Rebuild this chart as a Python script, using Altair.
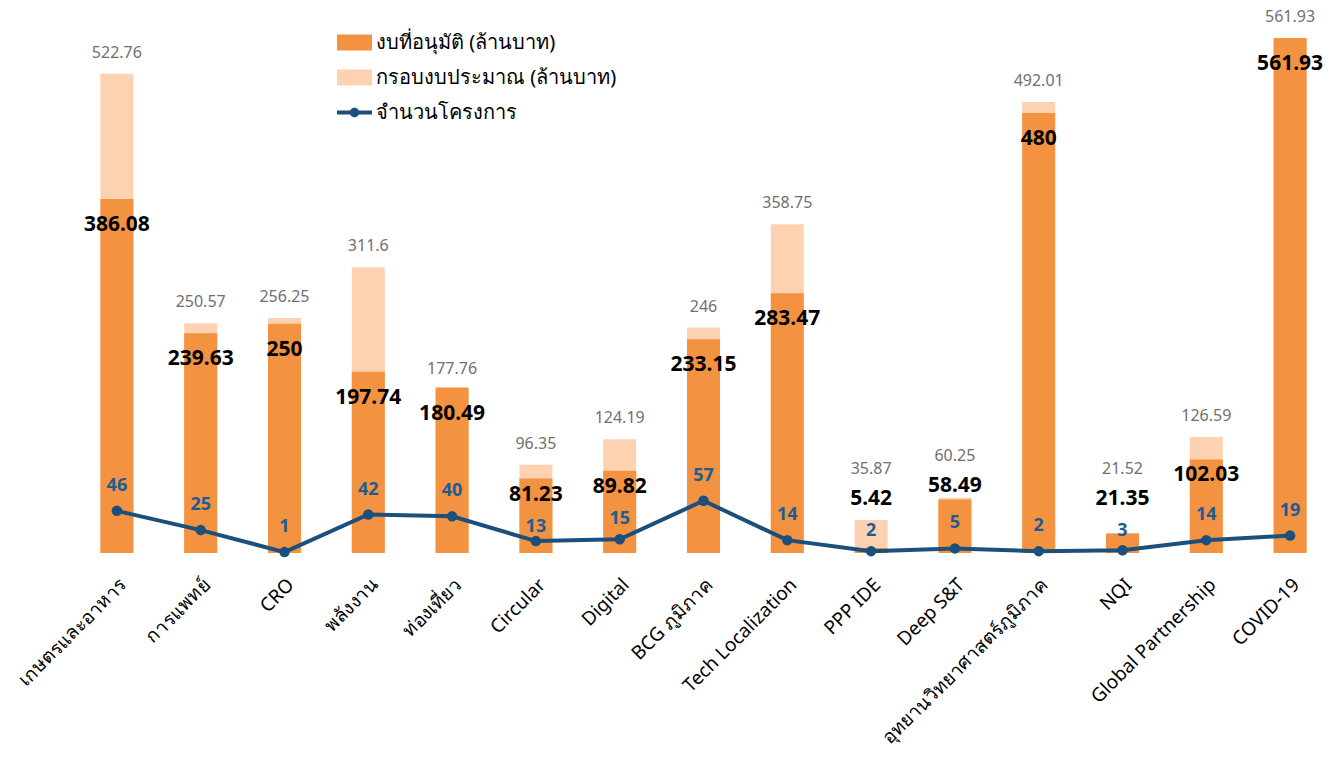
import altair as alt
import pandas as pd

categories = ["เกษตรและอาหาร", "การแพทย์", "CRO", "พลังงาน", "ท่องเที่ยว", "Circular",
              "Digital", "BCG ภูมิภาค", "Tech Localization", "PPP IDE", "Deep S&T",
              "อุทยานวิทยาศาสตร์ภูมิภาค", "NQI", "Global Partnership", "COVID-19"]
budget = [522.76, 250.57, 256.25, 311.6, 177.76, 96.35, 124.19, 246, 358.75, 35.87,
          60.25, 492.01, 21.52, 126.59, 561.93]
approved = [386.08, 239.63, 250, 197.74, 180.49, 81.23, 89.82, 233.15, 283.47, 5.42,
            58.49, 480, 21.35, 102.03, 561.93]
projects = [46, 25, 1, 42, 40, 13, 15, 57, 14, 2, 5, 2, 3, 14, 19]

S_APP = "งบที่อนุมัติ (ล้านบาท)"
S_BUD = "กรอบงบประมาณ (ล้านบาท)"
S_CNT = "จำนวนโครงการ"

ORANGE = "#F39240"
PEACH = "#FDD2B2"
NAVY = "#1B4F7C"
BLUE_TXT = "#1E5C93"
FONT = "Noto Sans"

H = 550
YMAX = 600
k = H / YMAX  # px per unit

df = pd.DataFrame({"cat": categories, "budget": budget, "approved": approved,
                   "projects": projects})
df["budget_lbl"] = [f"{v:g}" for v in budget]
df["approved_lbl"] = [f"{v:g}" for v in approved]
df["projects_lbl"] = [str(v) for v in projects]


def bold_pos(a):
    if a >= 110:
        return a - 26 / k
    if a >= 70:
        return a - 16 / k
    return max(a + 13 / k, 59)


df["bold_y"] = [bold_pos(a) for a in approved]
df["gray_y"] = [max(b + 21 / k, by + 30 / k) for b, by in zip(budget, df["bold_y"])]
df["cnt_y"] = [min(p + 25 / k, by - 32 / k) for p, by in zip(projects, df["bold_y"])]

xenc = alt.X("cat:N", sort=categories, title=None,
             axis=alt.Axis(labelAngle=-45, labelFontSize=19, labelColor="#000000",
                           labelFont=FONT, ticks=False, domain=False, labelPadding=22,
                           labelLimit=500))
yscale = alt.Scale(domain=[0, YMAX])

base = alt.Chart(df)

bud_bar = base.mark_bar(size=33, color=PEACH).encode(
    x=xenc, y=alt.Y("budget:Q", scale=yscale, axis=None))
app_bar = base.mark_bar(size=33, color=ORANGE).encode(
    x=xenc, y=alt.Y("approved:Q", scale=yscale, axis=None))
line = base.mark_line(color=NAVY, strokeWidth=4).encode(
    x=xenc, y=alt.Y("projects:Q", scale=yscale, axis=None))
pts = base.mark_circle(color=NAVY, size=110, opacity=1).encode(
    x=xenc, y=alt.Y("projects:Q", scale=yscale, axis=None))

gray_txt = base.mark_text(font=FONT, fontSize=16, color="#707070", baseline="middle").encode(
    x=xenc, y=alt.Y("gray_y:Q", scale=yscale, axis=None), text="budget_lbl:N")
bold_txt = base.mark_text(font=FONT, fontSize=21, fontWeight="bold", color="#000000",
                          baseline="middle").encode(
    x=xenc, y=alt.Y("bold_y:Q", scale=yscale, axis=None), text="approved_lbl:N")
cnt_txt = base.mark_text(font=FONT, fontSize=18, fontWeight="bold", color=BLUE_TXT,
                         baseline="middle").encode(
    x=xenc, y=alt.Y("cnt_y:Q", scale=yscale, axis=None), text="projects_lbl:N")

series = [S_APP, S_BUD, S_CNT]
rect_path = "M-1,-0.46L1,-0.46L1,0.46L-1,0.46Z"
line_path = ("M-1,-0.11L1,-0.11L1,0.11L-1,0.11Z "
             "M-0.27,0A0.27,0.27 0 1,1 0.27,0A0.27,0.27 0 1,1 -0.27,0Z")
leg = alt.Legend(orient="none", legendX=262, legendY=22, title=None, symbolSize=1225,
                 labelFontSize=20, labelFont=FONT, labelColor="#000000", labelOffset=4,
                 rowPadding=7, symbolStrokeWidth=0, symbolOpacity=1, padding=0,
                 labelLimit=400)
dummy = alt.Chart(pd.DataFrame({"series": pd.Series([], dtype="object")})).mark_point(
    filled=True, opacity=1).encode(
    color=alt.Color("series:N", scale=alt.Scale(domain=series, range=[ORANGE, PEACH, NAVY]),
                    legend=leg),
    shape=alt.Shape("series:N", scale=alt.Scale(domain=series,
                                                range=[rect_path, rect_path, line_path]),
                    legend=leg),
)

chart = alt.layer(bud_bar, app_bar, line, pts, gray_txt, bold_txt, cnt_txt, dummy).properties(
    width=1257, height=H,
    autosize=alt.AutoSizeParams(type="none"),
    padding={"left": 75, "top": 3, "right": 9, "bottom": 204},
).configure(background="#FFFFFF").configure_view(stroke=None, strokeWidth=0)

chart.save("out.html", embed_options={"renderer": "svg", "actions": False})
